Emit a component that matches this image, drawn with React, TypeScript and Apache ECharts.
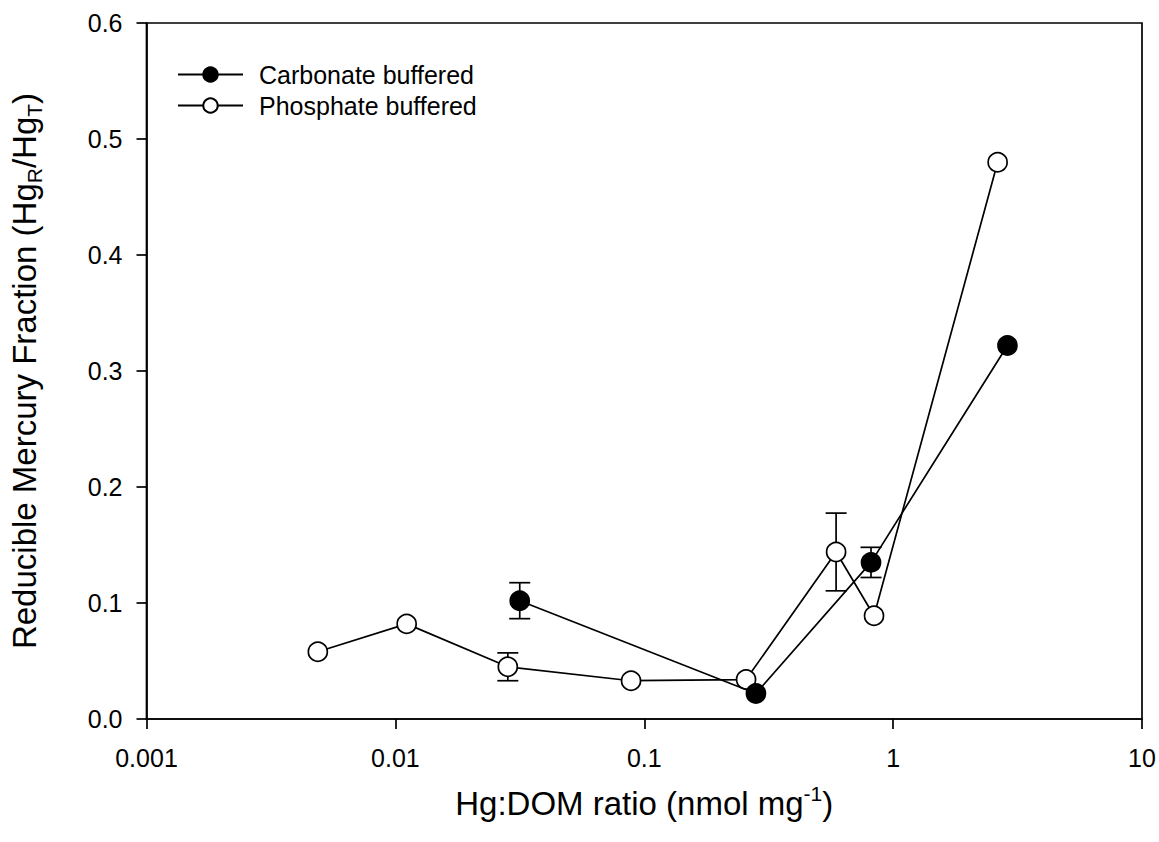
import React, { useEffect, useRef } from "react";
import * as echarts from "echarts";

const xTickLabels = ["0.001", "0.01", "0.1", "1", "10"];
const yTickLabels = ["0.0", "0.1", "0.2", "0.3", "0.4", "0.5", "0.6"];

const carbonateX = [0.0316, 0.281, 0.815, 2.88];
const carbonateY = [0.102, 0.022, 0.135, 0.322];
const carbonateErr = [0.0155, 0, 0.013, 0];

const phosphateX = [0.00488, 0.0111, 0.0283, 0.0885, 0.2565, 0.59, 0.838, 2.63];
const phosphateY = [0.058, 0.082, 0.045, 0.033, 0.034, 0.144, 0.089, 0.48];
const phosphateErr = [0, 0, 0.012, 0, 0, 0.0335, 0, 0];

const FONT = "'Liberation Sans', Arial, sans-serif";

function errData(xs: number[], ys: number[], es: number[]) {
  const out: number[][] = [];
  xs.forEach((x, i) => {
    if (es[i] > 0) out.push([x, ys[i] - es[i], ys[i] + es[i]]);
  });
  return out;
}

function errSeries(name: string, data: number[][]) {
  return {
    type: "custom",
    name: name + " err",
    data,
    z: 1,
    silent: true,
    renderItem: (params: any, api: any) => {
      const x = api.value(0);
      const lo = api.coord([x, api.value(1)]);
      const hi = api.coord([x, api.value(2)]);
      const hw = 10.5;
      const style = { stroke: "#000", lineWidth: 1.7 };
      return {
        type: "group",
        children: [
          { type: "line", shape: { x1: lo[0], y1: lo[1], x2: hi[0], y2: hi[1] }, style },
          { type: "line", shape: { x1: lo[0] - hw, y1: lo[1], x2: lo[0] + hw, y2: lo[1] }, style },
          { type: "line", shape: { x1: hi[0] - hw, y1: hi[1], x2: hi[0] + hw, y2: hi[1] }, style },
        ],
      };
    },
  };
}

export default function App() {
  const ref = useRef<HTMLDivElement>(null);
  useEffect(() => {
    if (!ref.current) return;
    const chart = echarts.init(ref.current, undefined, { renderer: "svg" });
    const richBase = {
      n: { fontSize: 33, fontFamily: FONT, color: "#000", lineHeight: 40, verticalAlign: "middle" },
      sub: { fontSize: 21, fontFamily: FONT, color: "#000", lineHeight: 16, verticalAlign: "bottom" },
      sup: { fontSize: 21, fontFamily: FONT, color: "#000", lineHeight: 16, verticalAlign: "top" },
    };
    chart.setOption({
      animation: false,
      backgroundColor: "#fff",
      grid: {
        left: 141,
        right: 17,
        top: 23,
        bottom: 123,
        show: true,
        borderColor: "#000",
        borderWidth: 1.7,
        backgroundColor: "transparent",
      },
      legend: {
        orient: "vertical",
        left: 172,
        top: 56,
        itemWidth: 65,
        itemHeight: 18,
        itemGap: 4,
        data: ["Carbonate buffered", "Phosphate buffered"],
        textStyle: { fontSize: 25, lineHeight: 27, fontFamily: FONT, color: "#000", padding: [0, 0, 0, 11] },
      },
      xAxis: {
        type: "log",
        logBase: 10,
        min: 0.001,
        max: 10,
        name: "{n|Hg:DOM ratio (nmol mg}{sup|-1}{n|)}",
        nameLocation: "middle",
        nameGap: 64,
        nameTextStyle: { rich: richBase },
        axisLine: { show: true, onZero: false, lineStyle: { color: "#000", width: 1.7 } },
        axisTick: { show: true, inside: false, length: 10, lineStyle: { color: "#000", width: 1.7 } },
        minorTick: { show: false },
        splitLine: { show: false },
        axisLabel: {
          margin: 26,
          fontSize: 25,
          fontFamily: FONT,
          color: "#000",
          formatter: (v: number) => {
            const i = Math.round(Math.log10(v)) + 3;
            return xTickLabels[i] ?? "";
          },
        },
      },
      yAxis: {
        type: "value",
        min: 0,
        max: 0.6,
        interval: 0.1,
        name: "{n|Reducible Mercury Fraction (Hg}{sub|R}{n|/Hg}{sub|T}{n|)}",
        nameLocation: "middle",
        nameRotate: 90,
        nameGap: 102,
        nameTextStyle: { rich: richBase },
        axisLine: { show: true, lineStyle: { color: "#000", width: 1.7 } },
        axisTick: { show: true, inside: false, length: 10, lineStyle: { color: "#000", width: 1.7 } },
        splitLine: { show: false },
        axisLabel: {
          margin: 24,
          fontSize: 25,
          fontFamily: FONT,
          color: "#000",
          formatter: (v: number) => yTickLabels[Math.round(v * 10)] ?? "",
        },
      },
      series: [
        errSeries("Phosphate buffered", errData(phosphateX, phosphateY, phosphateErr)),
        {
          name: "Phosphate buffered",
          type: "line",
          data: phosphateX.map((x, i) => [x, phosphateY[i]]),
          symbol: "circle",
          symbolSize: 19,
          z: 2,
          lineStyle: { color: "#000", width: 1.7 },
          itemStyle: { color: "#fff", borderColor: "#000", borderWidth: 1.7 },
        },
        errSeries("Carbonate buffered", errData(carbonateX, carbonateY, carbonateErr)),
        {
          name: "Carbonate buffered",
          type: "line",
          data: carbonateX.map((x, i) => [x, carbonateY[i]]),
          symbol: "circle",
          symbolSize: 19,
          z: 3,
          lineStyle: { color: "#000", width: 1.7 },
          itemStyle: { color: "#000", borderColor: "#000", borderWidth: 1.7 },
        },
      ],
    });
    return () => chart.dispose();
  }, []);
  return (
    <div
      ref={ref}
      style={{ position: "fixed", left: 0, top: 0, width: 1159, height: 842, background: "#fff" }}
    />
  );
}
